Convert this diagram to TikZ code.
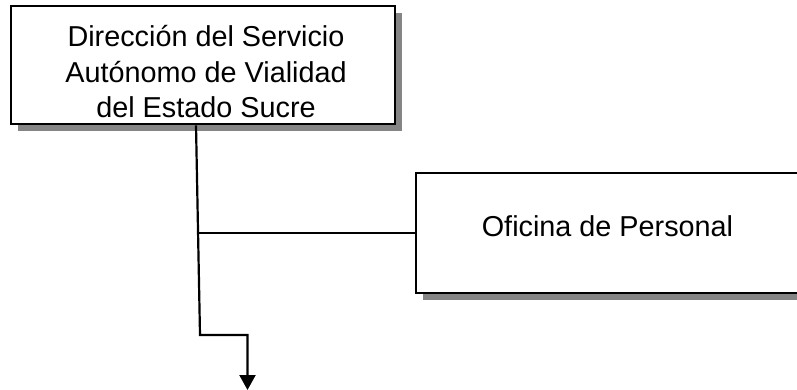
\documentclass[tikz,border=0pt]{standalone}
\usepackage{fontspec}
\setmainfont{Liberation Sans}
\usetikzlibrary{arrows.meta,shadows}
\begin{document}
\begin{tikzpicture}[x=1pt,y=-1pt,
  box/.style={draw=black,line width=2.3pt,fill=white,inner sep=0pt,anchor=north west,
    drop shadow={shadow xshift=6.5pt,shadow yshift=-6.5pt,fill=black!48,opacity=1}},
  txt/.style={align=center,inner sep=0pt,font=\fontsize{28.8}{35.5}\selectfont},
  conn/.style={draw=black,line width=2.2pt},
  arr/.style={-{Triangle[width=16pt,length=15pt]}}]
\useasboundingbox (0,0) rectangle (797,390);
\clip (0,0) rectangle (797,390);
\node[box,minimum width=384pt,minimum height=118pt] (dir) at (10,5) {};
\node[txt] (dirt) at (206,72) {Dirección del Servicio\\Autónomo de Vialidad\\del Estado Sucre};
\node[box,minimum width=420pt,minimum height=120pt] (ofi) at (415,172) {};
\node[txt] (ofit) at (607.5,226) {Oficina de Personal};
\coordinate (j) at (198,233);
\draw[conn,arr] ([xshift=186pt]dir.south west) -- (200,335) coordinate (b1) -- (247.5,335) coordinate (b2) -- (247.5,390) coordinate (tip);
\draw[conn] (j) -- (j -| ofi.west);
\end{tikzpicture}
\end{document}
